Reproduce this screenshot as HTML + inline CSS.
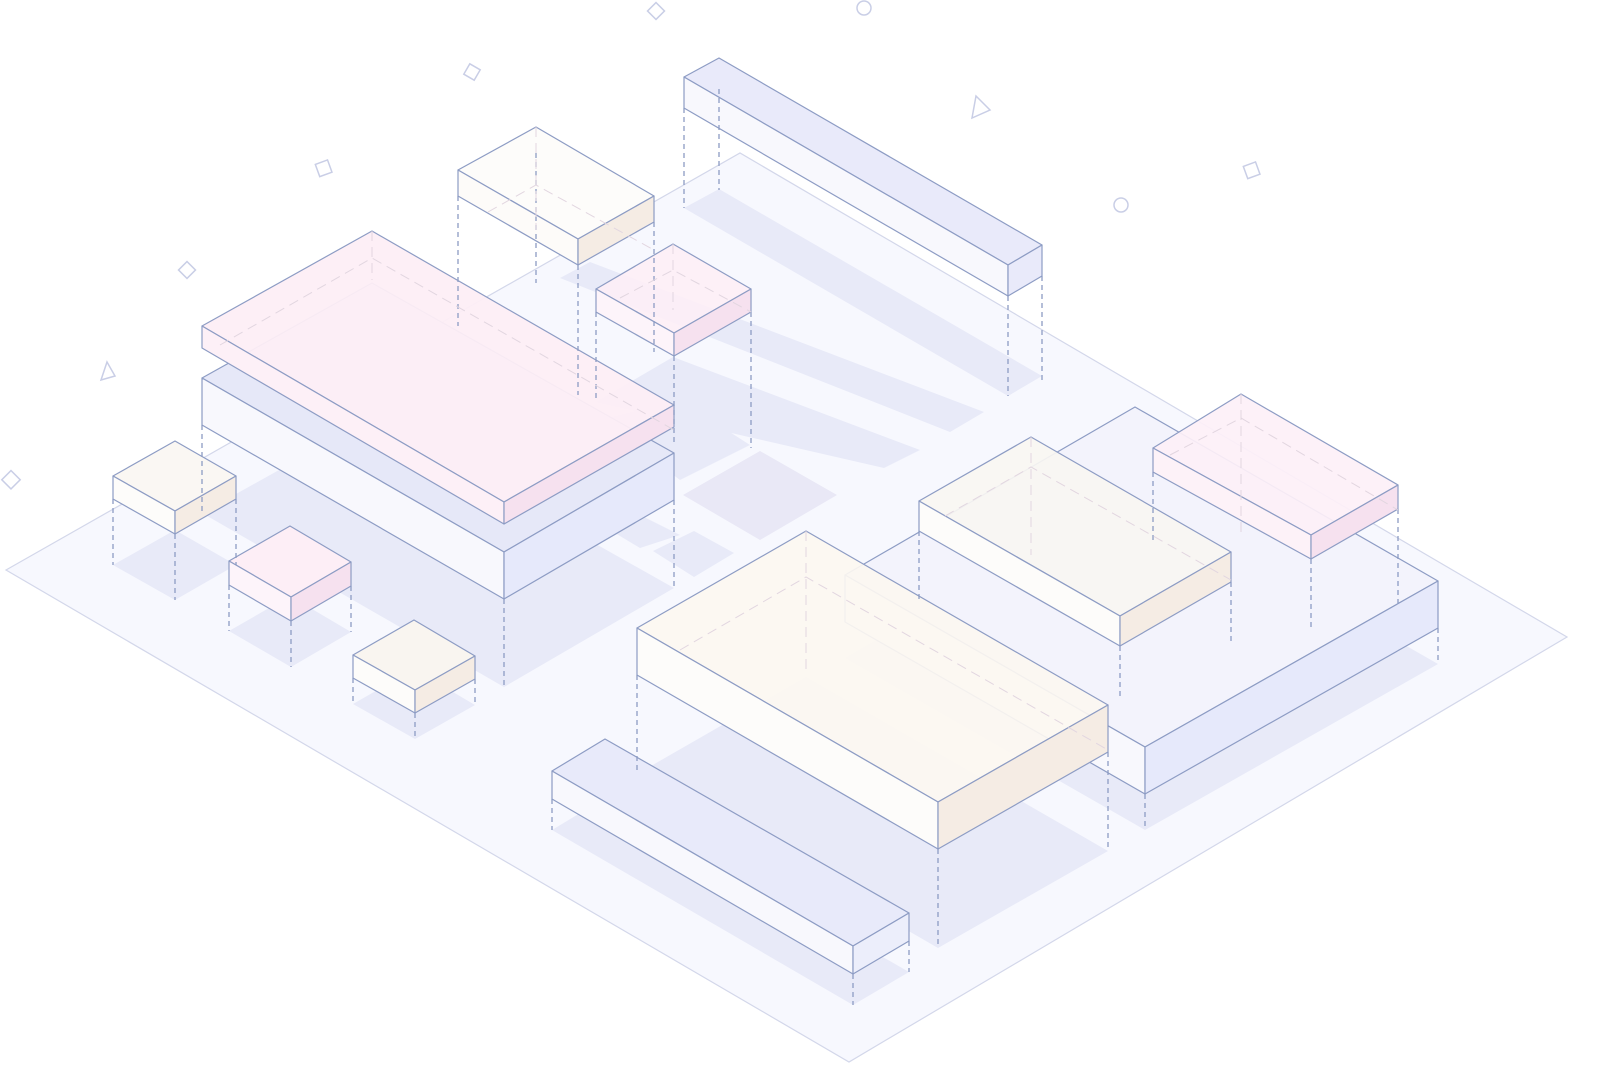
<!DOCTYPE html>
<html><head><meta charset="utf-8"><style>html,body{margin:0;padding:0;background:#fff}svg{display:block}</style></head>
<body>
<svg width="1610" height="1092" viewBox="0 0 1610 1092" xmlns="http://www.w3.org/2000/svg">
<g fill="none" stroke="#c9cee6" stroke-width="1.5">
<rect x="650" y="5" width="12" height="12" transform="rotate(45 656 11)"/>
<circle cx="864" cy="8" r="7"/>
<rect x="466" y="66" width="12" height="12" transform="rotate(30 472 72)"/>
<polygon points="976,96 990,110 972,118"/>
<rect x="317" y="162" width="13" height="13" transform="rotate(-20 323 168)"/>
<rect x="1245" y="164" width="13" height="13" transform="rotate(-20 1251 170)"/>
<circle cx="1121" cy="205" r="7"/>
<rect x="181" y="264" width="12" height="12" transform="rotate(45 187 270)"/>
<polygon points="107,362 115,376 101,380"/>
<rect x="5" y="473" width="13" height="13" transform="rotate(45 11 479)"/>
</g>
<polygon points="6,570 740,153 1567,637 849,1062" fill="#f7f8fe" stroke="#d3d7ea" stroke-width="1.2"/>
<g fill="#e8eaf8">
<polygon points="684,208 719,189 1042,376 1008,396"/>
<polygon points="560,278 590,262 984,412 950,432"/>
<polygon points="596,402 673,357 920,450 884,468"/>
<polygon points="202,513 372,418 674,588 504,687"/>
<polygon points="600,420 680,400 750,445 680,480"/>
<polygon points="683,495 760,451 837,495 760,540" fill="#e9e8f6"/>
<polygon points="653,551 694,531 734,553 694,577"/>
<polygon points="610,530 640,515 680,535 640,548"/>
<polygon points="113,565 175,530 236,565 175,600"/>
<polygon points="229,631 290,596 351,632 291,667"/>
<polygon points="353,704 414,669 475,705 415,739"/>
<polygon points="845,658 1135,490 1438,664 1145,830"/>
<polygon points="637,774 806,677 1108,851 938,948"/>
<polygon points="552,830 605,798 909,972 853,1005"/>
</g>
<g stroke="#8d9cc4" stroke-width="1.2" stroke-linejoin="round">
<!-- box1 -->
<polygon points="684,77 719,58 1042,245 1008,265" fill="#e9eafa"/>
<polygon points="684,77 1008,265 1008,296 684,108" fill="#f8f8fd"/>
<polygon points="1008,265 1042,245 1042,276 1008,296" fill="#e9eafa"/>
<!-- box2 -->
<polygon points="458,170 536,127 654,196 578,239" fill="#fdfcfa" fill-opacity="0.9"/>
<polygon points="458,170 578,239 578,265 458,196" fill="#fdfbf9"/>
<polygon points="578,239 654,196 654,222 578,265" fill="#f5ece4"/>
<!-- box3 -->
<polygon points="596,289 673,244 751,289 674,333" fill="#fdeef6" fill-opacity="0.9"/>
<polygon points="596,289 674,333 674,356 596,312" fill="#fdf4fa"/>
<polygon points="674,333 751,289 751,312 674,356" fill="#f6e1ef"/>
<!-- big lower -->
<polygon points="202,378 372,283 674,453 504,552" fill="#e6e8f8"/>
<polygon points="202,378 504,552 504,599 202,425" fill="#f8f8fd"/>
<polygon points="504,552 674,453 674,500 504,599" fill="#e6e9fb"/>
<!-- pink -->
<polygon points="202,326 372,231 674,405 504,502" fill="#fdeef6" fill-opacity="0.95"/>
<polygon points="202,326 504,502 504,524 202,348" fill="#fdf0f7"/>
<polygon points="504,502 674,405 674,427 504,524" fill="#f6e1ef"/>
<!-- A -->
<polygon points="113,476 175,441 236,476 175,511" fill="#faf7f3"/>
<polygon points="113,476 175,511 175,534 113,499" fill="#fdfcfa"/>
<polygon points="175,511 236,476 236,499 175,534" fill="#f5ece4"/>
<!-- B -->
<polygon points="229,561 290,526 351,562 291,597" fill="#fdeef6"/>
<polygon points="229,561 291,597 291,621 229,585" fill="#fdf4fa"/>
<polygon points="291,597 351,562 351,586 291,621" fill="#f6e1ef"/>
<!-- right lavender -->
<polygon points="845,575 1135,407 1438,581 1145,747" fill="#f3f3fc"/>
<polygon points="845,575 1145,747 1145,794 845,622" fill="#f8f8fd"/>
<polygon points="1145,747 1438,581 1438,628 1145,794" fill="#e6e9fb"/>
<!-- beige right -->
<polygon points="919,501 1031,437 1231,552 1120,616" fill="#f9f6f2" fill-opacity="0.92"/>
<polygon points="919,501 1120,616 1120,646 919,531" fill="#fdfcfa"/>
<polygon points="1120,616 1231,552 1231,582 1120,646" fill="#f5ece4"/>
<!-- pink right -->
<polygon points="1153,448 1241,394 1398,485 1311,535" fill="#fdf0f7" fill-opacity="0.92"/>
<polygon points="1153,448 1311,535 1311,559 1153,472" fill="#fdf2f8"/>
<polygon points="1311,535 1398,485 1398,509 1311,559" fill="#f6e1ef"/>
<!-- C -->
<polygon points="353,655 414,620 475,656 415,690" fill="#f9f5f0"/>
<polygon points="353,655 415,690 415,713 353,678" fill="#fdfcfa"/>
<polygon points="415,690 475,656 475,679 415,713" fill="#f5ece4"/>
<!-- center -->
<polygon points="637,628 806,531 1108,705 938,802" fill="#fcf7f1" fill-opacity="0.92"/>
<polygon points="637,628 938,802 938,849 637,675" fill="#fdfcfa"/>
<polygon points="938,802 1108,705 1108,752 938,849" fill="#f5ece4"/>
<!-- blue bar -->
<polygon points="552,771 605,739 909,913 853,946" fill="#e8eafa"/>
<polygon points="552,771 853,946 853,974 552,799" fill="#f8f8fd"/>
<polygon points="853,946 909,913 909,941 853,974" fill="#eceefb"/>
</g>
<g stroke="#8d9cc4" stroke-width="1.3" stroke-dasharray="5,4" fill="none">
<path d="M684,108V208M719,89V190M1008,296V396M1042,276V380"/>
<path d="M458,196V326M536,153V283M578,265V395M654,222V352"/>
<path d="M596,312V402M674,356V446M751,312V448"/>
<path d="M202,425V513M504,599V687M674,500V588"/>
<path d="M113,499V565M175,534V600M236,499V565"/>
<path d="M229,585V631M291,621V667M351,586V632"/>
<path d="M353,678V704M415,713V739M475,679V705"/>
<path d="M1145,794V830M1438,628V660"/>
<path d="M919,531V600M1120,646V697M1231,582V642"/>
<path d="M1153,472V540M1311,559V627M1398,509V604"/>
<path d="M637,675V774M938,849V948M1108,752V851"/>
<path d="M552,799V830M853,974V1005M909,941V972"/>
</g>
<g stroke="#e2d6e0" stroke-width="1" stroke-dasharray="10,6" fill="none">
<path d="M536,127V230M488,212L536,185L654,250"/>
<path d="M673,244V310M620,298L673,270L751,312"/>
<path d="M372,231V280M220,345L372,258L674,430"/>
<path d="M806,531V672M680,650L806,577L1108,750"/>
<path d="M1031,437V555M945,516L1031,467L1231,580"/>
<path d="M1241,394V535M1170,455L1241,418L1398,510"/>
</g>
</svg>
</body></html>
